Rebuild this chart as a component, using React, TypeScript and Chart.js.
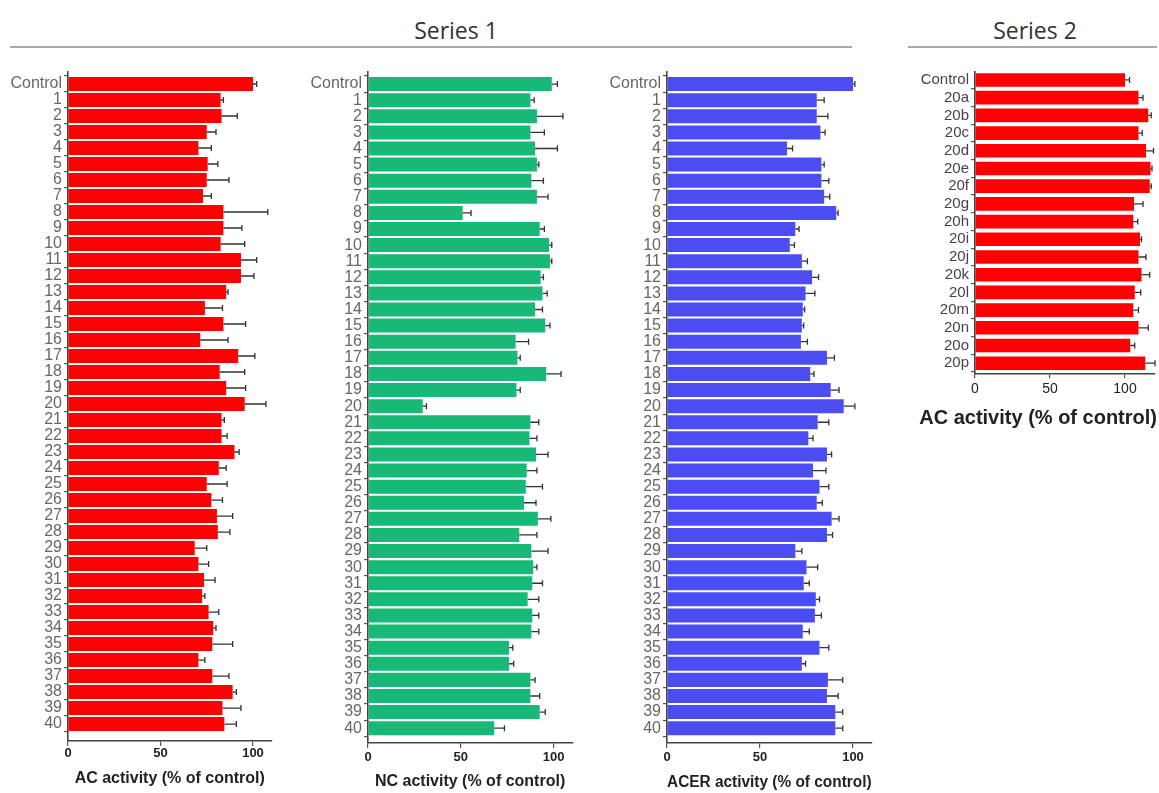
import React, { useEffect, useRef } from 'react';
import { Chart, registerables } from 'chart.js';

Chart.register(...registerables);

// ---------- data ----------
const seriesOneLabels = [
  'Control', '1', '2', '3', '4', '5', '6', '7', '8', '9', '10',
  '11', '12', '13', '14', '15', '16', '17', '18', '19', '20',
  '21', '22', '23', '24', '25', '26', '27', '28', '29', '30',
  '31', '32', '33', '34', '35', '36', '37', '38', '39', '40',
];

const acValues = [
  100, 82.5, 83, 75, 70.5, 75.5, 75, 73, 84, 84, 82.5,
  93.5, 93.5, 85.5, 74, 84, 71.5, 92, 82, 85.5, 95.5,
  83, 83, 90, 81.5, 75, 77.5, 80.5, 81, 68.5, 70.5,
  73.5, 72.5, 76, 78.5, 78, 70.5, 78, 89, 83.5, 84.5,
];
const acErrors = [
  2, 1.5, 8.5, 5, 7, 5.5, 12, 4.5, 24, 10, 13,
  8.5, 7, 1, 9.5, 12, 15, 9, 13.5, 10.5, 11.5,
  1.5, 3, 2.5, 4, 11, 6, 8.5, 6.5, 6.5, 5.5,
  6, 1.5, 5.5, 1.5, 11, 3.5, 9, 2, 10, 6.5,
];

const ncValues = [
  99, 87.5, 91, 87.5, 90, 91, 88, 91, 51, 92.5, 97.5,
  98, 93, 94, 90, 95.5, 79.5, 80.5, 96, 80, 29.5,
  87.5, 87, 90.5, 85.5, 85, 84, 91.5, 81.5, 88, 89,
  88.5, 86, 88.5, 88, 76, 76, 87.5, 87.5, 92.5, 68,
];
const ncErrors = [
  3, 2, 14, 7.5, 12, 1, 6.5, 6, 4.5, 2.5, 1.5,
  1, 1.5, 2.5, 4, 2.5, 7, 1.5, 8, 2, 2,
  4.5, 4, 6.5, 5.5, 9, 6.5, 7, 9.5, 9, 2,
  5.5, 6, 3.5, 4, 2, 2.5, 2.5, 5, 3, 5.5,
];

const acerValues = [
  100, 80.5, 80.5, 82.5, 64.5, 83, 83, 84.5, 91, 69, 66,
  72.5, 78, 74.5, 73, 72.5, 72, 86, 77, 88, 95,
  81, 76, 86, 78.5, 82, 80.5, 88.5, 86, 69, 75,
  73.5, 80, 79.5, 73, 82, 72.5, 86.5, 86, 90.5, 90.5,
];
const acerErrors = [
  1, 4, 6, 2.5, 3, 1.5, 4, 3, 1, 2, 2.5,
  3, 3.5, 5, 1, 1, 3.5, 4, 2, 4.5, 6,
  6, 2.5, 2.5, 7, 5, 3, 4, 3, 3.5, 6,
  3, 2, 3.5, 3.5, 5, 2, 8, 6, 4, 4,
];

const seriesTwoLabels = [
  'Control', '20a', '20b', '20c', '20d', '20e', '20f', '20g', '20h',
  '20i', '20j', '20k', '20l', '20m', '20n', '20o', '20p',
];
const ac2Values = [
  100, 109, 115.5, 109, 114, 117, 116.5, 106, 105.5,
  110, 109, 111, 106.5, 105.5, 109, 103.5, 113.5,
];
const ac2Errors = [
  3, 3, 2, 2.5, 5, 1, 1, 6, 3,
  1, 5, 5.5, 4, 3.5, 6.5, 3, 6.5,
];

const xTickValues = [0, 50, 100];

// ---------- error bar plugin ----------
const errorBarPlugin = {
  id: 'errorBars',
  afterDatasetsDraw(chart: any) {
    const ds: any = chart.data.datasets[0];
    const errs: number[] = ds.errors || [];
    const meta = chart.getDatasetMeta(0);
    const xs = chart.scales.x;
    const ctx = chart.ctx;
    const cap = ds.capHalf || 3;
    ctx.save();
    ctx.strokeStyle = '#333';
    ctx.lineWidth = 1.3;
    meta.data.forEach((el: any, i: number) => {
      const v = ds.data[i].x;
      const end = xs.getPixelForValue(v + errs[i]);
      const y = el.y;
      ctx.beginPath();
      ctx.moveTo(el.x, y);
      ctx.lineTo(end, y);
      ctx.moveTo(end, y - cap);
      ctx.lineTo(end, y + cap);
      ctx.stroke();
    });
    ctx.restore();
  },
};

type PanelProps = {
  left: number;
  top: number;
  width: number;
  height: number;
  labels: string[];
  values: number[];
  errors: number[];
  color: string;
  xMax: number;
  yMin: number;
  yMax: number;
  yAxisWidth: number;
  xAxisHeight: number;
  padTop: number;
  padRight: number;
  barPct: number;
  title: string;
  showTitle: boolean;
  titleSize: number;
  titlePadBottom: number;
  yTickSize: number;
  yTickColor: string;
  xTickSize: number;
  xTickBold: boolean;
  xTickPad: number;
};

function Panel(p: PanelProps) {
  const ref = useRef<HTMLCanvasElement | null>(null);
  useEffect(() => {
    if (!ref.current) return;
    const chart = new Chart(ref.current, {
      type: 'bar',
      data: {
        datasets: [
          {
            data: p.values.map((v, i) => ({ x: v, y: i })),
            backgroundColor: p.color,
            borderWidth: 0,
            barPercentage: p.barPct,
            categoryPercentage: 1,
            errors: p.errors,
            capHalf: 3,
          } as any,
        ],
      },
      options: {
        indexAxis: 'y',
        responsive: false,
        animation: false,
        layout: { padding: { top: p.padTop, right: p.padRight, left: 0, bottom: 0 } },
        plugins: {
          legend: { display: false },
          tooltip: { enabled: false },
        },
        scales: {
          y: {
            type: 'linear',
            reverse: true,
            offset: false,
            min: p.yMin,
            max: p.yMax,
            afterBuildTicks: (scale: any) => {
              scale.ticks = p.labels.map((_, i) => ({ value: i }));
            },
            afterFit: (scale: any) => {
              scale.width = p.yAxisWidth;
            },
            ticks: {
              autoSkip: false,
              padding: 2,
              color: p.yTickColor,
              font: { family: 'Liberation Sans', size: p.yTickSize },
              callback: (value: any) => p.labels[value as number],
            },
            grid: {
              display: true,
              drawOnChartArea: false,
              drawTicks: true,
              tickLength: 4,
              color: '#555',
              lineWidth: 1.2,
            },
            border: { display: true, color: '#444', width: 1.6 },
          },
          x: {
            type: 'linear',
            min: 0,
            max: p.xMax,
            afterBuildTicks: (scale: any) => {
              scale.ticks = xTickValues.map((v) => ({ value: v }));
            },
            afterFit: (scale: any) => {
              scale.height = p.xAxisHeight;
            },
            ticks: {
              autoSkip: false,
              padding: p.xTickPad,
              color: '#222',
              font: {
                family: 'Liberation Sans',
                size: p.xTickSize,
                weight: p.xTickBold ? 'bold' : 'normal',
              },
            },
            grid: {
              display: true,
              drawOnChartArea: false,
              drawTicks: true,
              tickLength: 5,
              color: '#555',
              lineWidth: 1.2,
            },
            border: { display: true, color: '#444', width: 1.6 },
            title: {
              display: p.showTitle,
              text: p.title,
              color: '#222',
              padding: { top: 0, bottom: p.titlePadBottom },
              font: { family: 'Liberation Sans', size: p.titleSize, weight: 'bold' },
            },
          },
        },
      },
      plugins: [errorBarPlugin],
    } as any);
    return () => chart.destroy();
  }, []);
  return (
    <canvas
      ref={ref}
      width={p.width}
      height={p.height}
      style={{ position: 'absolute', left: p.left, top: p.top, width: p.width, height: p.height }}
    />
  );
}

const headerStyle: React.CSSProperties = {
  position: 'absolute',
  top: 14,
  lineHeight: '32px',
  fontFamily: 'Open Sans',
  fontSize: 23,
  color: '#333',
  whiteSpace: 'nowrap',
  transform: 'translateX(-50%)',
};

export default function App() {
  const common = {
    top: 60,
    height: 733,
    width: 290,
    labels: seriesOneLabels,
    xMax: 110,
    padTop: 12,
    barPct: 0.87,
    showTitle: true,
    titleSize: 16,
    yTickSize: 16,
    yTickColor: '#666',
    xTickSize: 13,
    xTickBold: true,
  };
  return (
    <div style={{ position: 'absolute', left: 0, top: 0, width: 1159, height: 793, background: '#fff', overflow: 'hidden' }}>
      <div style={{ ...headerStyle, left: 456 }}>Series 1</div>
      <div style={{ position: 'absolute', left: 10, top: 46, width: 842, height: 2, background: '#a8a8a8' }} />
      <div style={{ ...headerStyle, left: 1035 }}>Series 2</div>
      <div style={{ position: 'absolute', left: 908, top: 46, width: 249, height: 2, background: '#a8a8a8' }} />

      <Panel
        {...common}
        left={0}
        values={acValues}
        errors={acErrors}
        color="#ff0000"
        yMin={-0.75}
        yMax={41.06}
        yAxisWidth={68}
        xAxisHeight={52}
        padRight={18.5}
        title="AC activity (% of control)"
        titlePadBottom={5}
        xTickPad={0}
      />
      <Panel
        {...common}
        left={300}
        values={ncValues}
        errors={ncErrors}
        color="#17b878"
        yMin={-0.75}
        yMax={40.92}
        yAxisWidth={68}
        xAxisHeight={50}
        padRight={17.8}
        title="NC activity (% of control)"
        titlePadBottom={2}
        xTickPad={2}
      />
      <Panel
        {...common}
        left={600}
        values={acerValues}
        errors={acerErrors}
        color="#4b4cf2"
        yMin={-0.75}
        yMax={40.92}
        yAxisWidth={67}
        xAxisHeight={50}
        padRight={18.4}
        title="ACER activity (% of control)"
        titlePadBottom={1}
        xTickPad={2}
      />
      <Panel
        left={900}
        top={60}
        width={259}
        height={380}
        labels={seriesTwoLabels}
        values={ac2Values}
        errors={ac2Errors}
        color="#ff0000"
        xMax={120}
        yMin={-0.45}
        yMax={16.57}
        yAxisWidth={75}
        xAxisHeight={66.7}
        padTop={12}
        padRight={4}
        barPct={0.77}
        title="AC activity (% of control)"
        showTitle={false}
        titleSize={19}
        titlePadBottom={11}
        yTickSize={15}
        yTickColor="#444"
        xTickSize={14}
        xTickBold={false}
        xTickPad={2}
      />
      <div
        style={{
          position: 'absolute',
          right: 2,
          top: 405,
          lineHeight: '24px',
          fontFamily: 'Liberation Sans',
          fontWeight: 'bold',
          fontSize: 20,
          color: '#222',
          whiteSpace: 'nowrap',
        }}
      >
        AC activity (% of control)
      </div>
    </div>
  );
}
